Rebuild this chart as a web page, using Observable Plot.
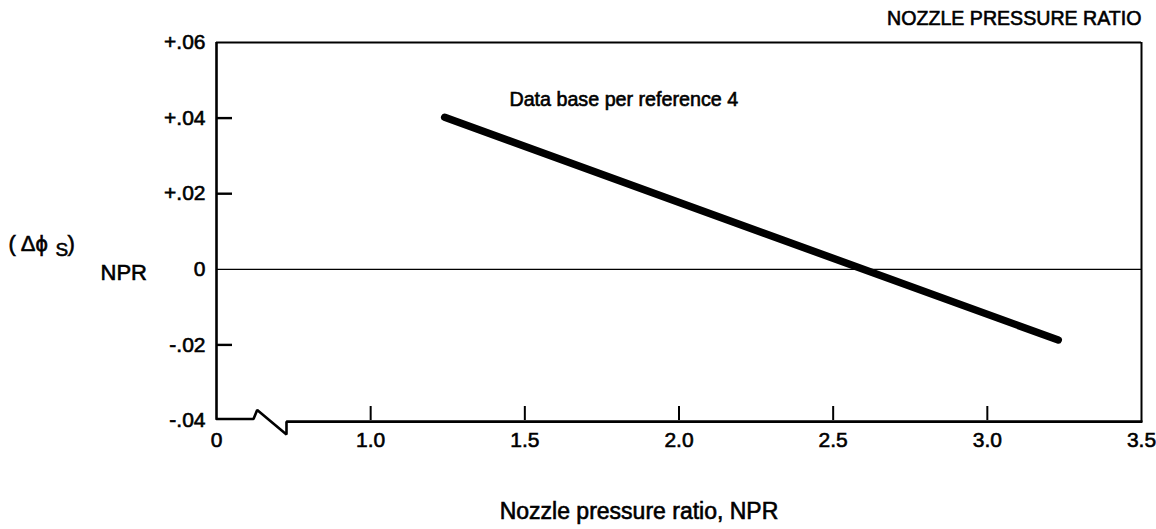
<!DOCTYPE html>
<html><head><meta charset="utf-8">
<script src="https://cdn.jsdelivr.net/npm/d3@7"></script>
<script src="https://cdn.jsdelivr.net/npm/@observablehq/plot@0.6"></script>
<style>body{margin:0;background:#fff} svg{display:block} svg text{stroke:black;stroke-width:0.6px}</style>
</head><body><div id="chart"></div>
<script>
// Data: nozzle pressure ratio correction line
const npr = [1.24, 3.23];
const deltaPhi = [0.0402, -0.0187];
// Axis ticks
const yTicks = [-0.04, -0.02, 0, 0.02, 0.04, 0.06];
const yTickLabels = ["-.04", "-.02", "0", "+.02", "+.04", "+.06"];
const yInnerTicks = [-0.02, 0.02, 0.04];
const xTicks = [0.5, 1, 1.5, 2, 2.5, 3, 3.5];
const xTickLabels = ["0", "1.0", "1.5", "2.0", "2.5", "3.0", "3.5"];
const xInnerTicks = [1, 1.5, 2, 2.5, 3];
// Axis break symbol on the bottom axis
const breakX = [0.5, 0.62, 0.632, 0.727, 0.727, 3.5];
const breakY = [-0.0396, -0.0396, -0.0372, -0.0437, -0.0403, -0.0403];

const lineData = npr.map((x, i) => ({x, y: deltaPhi[i]}));
const breakData = breakX.map((x, i) => ({x, y: breakY[i]}));

const W = 1156, H = 529, mL = 216, mR = 15, mT = 42, mB = 109;
const frameW = W - mL - mR, frameH = H - mT - mB;
const font = "Liberation Sans, Arial, sans-serif";

const chart = Plot.plot({
  width: W, height: H,
  marginLeft: mL, marginRight: mR, marginTop: mT, marginBottom: mB,
  style: {fontFamily: font, fontSize: "21px", color: "black", background: "white", overflow: "visible"},
  x: {domain: [0.5, 3.5]},
  y: {domain: [-0.04, 0.06]},
  marks: [
    Plot.axisY({ticks: yTicks, tickFormat: d => yTickLabels[yTicks.indexOf(d)], tickSize: 0, tickPadding: 11, label: null, fontSize: 21}),
    Plot.axisX({ticks: xTicks, tickFormat: d => xTickLabels[xTicks.indexOf(d)], tickSize: 0, tickPadding: 12, label: null, fontSize: 21}),
    // frame
    Plot.ruleX([0.5], {y1: -0.0396, y2: 0.06, stroke: "black", strokeWidth: 2.6}),
    Plot.ruleY([0.06], {x1: 0.5, x2: 3.5, stroke: "black", strokeWidth: 2}),
    Plot.ruleX([3.5], {y1: -0.0403, y2: 0.06, stroke: "black", strokeWidth: 2}),
    Plot.line(breakData, {x: "x", y: "y", stroke: "black", strokeWidth: 2.6, strokeLinejoin: "miter"}),
    // zero line
    Plot.ruleY([0], {x1: 0.5, x2: 3.5, stroke: "black", strokeWidth: 1.2}),
    // inner tick marks
    Plot.tickY(yInnerTicks, {y: d => d, insetRight: frameW - 16, stroke: "black", strokeWidth: 2.4}),
    Plot.tickX(xInnerTicks, {x: d => d, insetTop: frameH - 14, stroke: "black", strokeWidth: 2}),
    // data line
    Plot.line(lineData, {x: "x", y: "y", stroke: "black", strokeWidth: 7.5, strokeLinecap: "round"}),
    // annotation
    Plot.text(["Data base per reference 4"], {x: 1.45, y: 0.045, text: d => d, textAnchor: "start", fontSize: 19.7}),
    // title
    Plot.text(["NOZZLE PRESSURE RATIO"], {frameAnchor: "top-right", text: d => d, dy: -31, fontSize: 19.6}),
    // x label
    Plot.text(["Nozzle pressure ratio, NPR"], {frameAnchor: "bottom", text: d => d, dx: -40, dy: 98, fontSize: 23}),
    // y label
    Plot.text(["( Δϕ"], {frameAnchor: "left", text: d => d, textAnchor: "start", dx: -208, dy: 12, fontSize: 22}),
    Plot.text(["S"], {frameAnchor: "left", text: d => d, textAnchor: "start", dx: -161, dy: 18, fontSize: 19}),
    Plot.text([")"], {frameAnchor: "left", text: d => d, textAnchor: "start", dx: -149, dy: 12, fontSize: 22}),
    Plot.text(["NPR"], {frameAnchor: "left", text: d => d, textAnchor: "start", dx: -116, dy: 41, fontSize: 22})
  ]
});
document.getElementById("chart").appendChild(chart);
</script>
</body></html>
